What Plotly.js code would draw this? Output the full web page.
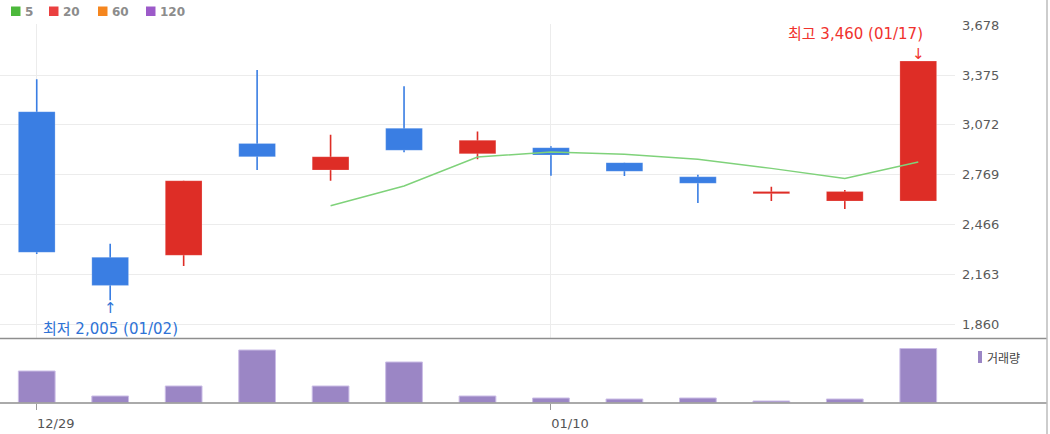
<!DOCTYPE html>
<html>
<head>
<meta charset="utf-8">
<script src="https://cdn.plot.ly/plotly-3.0.1.min.js"></script>
<style>html,body{margin:0;padding:0;background:#fff;}#chart{width:1050px;height:434px;}</style>
</head>
<body>
<div id="chart"></div>
<script>
// ---- data ----
var dates = ['12/29','01/02','01/03','01/04','01/05','01/06','01/09','01/10','01/11','01/12','01/13','01/16','01/17'];
var openP  = [3152,2266,2278,2959,2797,3051,2896,2933,2842,2756,2653,2608,2608];
var closeP = [2296,2095,2732,2878,2878,2917,2978,2888,2789,2716,2667,2667,3460];
var highP  = [3350,2349,2732,3405,3012,3306,3032,2941,2842,2769,2695,2675,3460];
var lowP   = [2286,2005,2213,2797,2732,2905,2862,2762,2761,2596,2608,2560,2608];
var ma5    = [null,null,null,null,2580,2700,2876,2907,2893,2862,2807,2746,2846];
var volume = [315,65,165,525,165,405,65,45,35,45,15,35,540];
var priceTicks = [1860,2163,2466,2769,3072,3375,3678];
var dateTicks = ['12/29','01/10'];
var maLegend = ['5','20','60','120'];
var maColors = ['#4cb83b','#ea4040','#f5861f','#9c5ac9'];

var UP = '#de2d26', DOWN = '#3a7ee3';
var colors = closeP.map(function(c,i){ return c >= openP[i] ? UP : DOWN; });
var bodyBase = openP.map(function(o,i){ return Math.min(o, closeP[i]); });
var bodyLen = openP.map(function(o,i){ return Math.max(Math.abs(closeP[i]-o), 2); });
var wickLen = highP.map(function(h,i){ return h - lowP[i]; });

var W = 1050, H = 434;
function px(x){ return x / W; }
function py(y){ return 1 - y / H; }

var traces = [
  { type:'bar', x:dates, y:wickLen, base:lowP, width:0.022, marker:{color:colors, line:{width:0}}, xaxis:'x', yaxis:'y', hoverinfo:'skip' },
  { type:'bar', x:dates, y:bodyLen, base:bodyBase, width:0.5, marker:{color:colors, line:{width:0.6, color:'rgba(255,255,255,0.35)'}}, xaxis:'x', yaxis:'y', hoverinfo:'skip' },
  { type:'scatter', mode:'lines', x:dates, y:ma5, line:{color:'#7fd27a', width:1.5}, xaxis:'x', yaxis:'y', hoverinfo:'skip', connectgaps:false },
  { type:'bar', x:dates, y:volume, width:0.5, marker:{color:'#9b86c5', line:{width:1, color:'#cbbde6'}}, xaxis:'x2', yaxis:'y2', hoverinfo:'skip' }
];

var xDom = [0, 955/W];
var shapes = [
  {type:'line', xref:'paper', yref:'paper', x0:0, x1:px(1047), y0:py(338.5), y1:py(338.5), line:{color:'#8e8e8e', width:1.5}},
  {type:'line', xref:'paper', yref:'paper', x0:0, x1:px(1047), y0:py(403), y1:py(403), line:{color:'#8e8e8e', width:1.5}},
  {type:'line', xref:'paper', yref:'paper', x0:px(1047), x1:px(1047), y0:py(0), y1:py(434), line:{color:'#bdbdbd', width:1.5}},
  {type:'rect', xref:'paper', yref:'paper', x0:px(978), x1:px(982), y0:py(363), y1:py(351), line:{width:0}, fillcolor:'#9b86c5'}
];
var legX = [11, 49, 98, 146];
var legTX = [23, 61, 110, 158];
var annotations = [];
maLegend.forEach(function(t,i){
  shapes.push({type:'rect', xref:'paper', yref:'paper', x0:px(legX[i]), x1:px(legX[i]+9.5), y0:py(16), y1:py(6.5), line:{width:0}, fillcolor:maColors[i]});
  annotations.push({xref:'paper', yref:'paper', x:px(legTX[i]), y:py(11.5), text:'<b>'+t+'</b>', showarrow:false, xanchor:'left', yanchor:'middle', font:{family:'DejaVu Sans', size:12, color:'#8c8c8c'}});
});
annotations.push({xref:'paper', yref:'paper', x:px(985), y:py(357), text:'거래량', showarrow:false, xanchor:'left', yanchor:'middle', font:{family:'Noto Sans CJK KR', size:12, color:'#444'}});

// high / low markers
var hiIdx = 0, loIdx = 0;
highP.forEach(function(v,i){ if (v > highP[hiIdx]) hiIdx = i; });
lowP.forEach(function(v,i){ if (v < lowP[loIdx]) loIdx = i; });
function fmt(v){ return v.toLocaleString('en-US'); }
var HI = '#f0322d', LO = '#2f73d6';
annotations.push({x:dates[hiIdx], y:highP[hiIdx], xref:'x', yref:'y', text:'↓', showarrow:false, xanchor:'center', yanchor:'middle', yshift:7, font:{family:'DejaVu Sans', size:15, color:HI}});
annotations.push({x:dates[hiIdx], y:highP[hiIdx], xref:'x', yref:'y', text:'최고 '+fmt(highP[hiIdx])+' ('+dates[hiIdx]+')', showarrow:false, xanchor:'right', yanchor:'middle', xshift:7, yshift:27, font:{family:'DejaVu Sans, Noto Sans CJK KR', size:15, color:HI}});
annotations.push({x:dates[loIdx], y:lowP[loIdx], xref:'x', yref:'y', text:'↑', showarrow:false, xanchor:'center', yanchor:'middle', yshift:-8, font:{family:'DejaVu Sans', size:15, color:LO}});
annotations.push({x:dates[loIdx], y:lowP[loIdx], xref:'x', yref:'y', text:'최저 '+fmt(lowP[loIdx])+' ('+dates[loIdx]+')', showarrow:false, xanchor:'center', yanchor:'middle', yshift:-28.5, font:{family:'DejaVu Sans, Noto Sans CJK KR', size:15, color:LO}});

var layout = {
  width:W, height:H,
  margin:{l:0, r:0, t:0, b:0},
  paper_bgcolor:'#fff', plot_bgcolor:'#fff',
  showlegend:false,
  barmode:'overlay',
  xaxis:{type:'category', domain:xDom, range:[-0.5,12.5], anchor:'y', tickvals:dateTicks, showticklabels:false, ticks:'', showgrid:true, gridcolor:'#ececec', gridwidth:1, showline:false, zeroline:false, fixedrange:true},
  yaxis:{domain:[py(338), py(24.4)], range:[1775,3683], side:'right', anchor:'x', tickvals:priceTicks, ticktext:priceTicks.map(fmt), showgrid:true, gridcolor:'#ececec', gridwidth:1, zeroline:false, showline:false, ticks:'', ticklabelstandoff:6, tickfont:{family:'DejaVu Sans', size:13, color:'#5a5a5a'}, fixedrange:true},
  xaxis2:{type:'category', domain:xDom, range:[-0.5,12.5], anchor:'y2', tickvals:dateTicks, ticks:'outside', ticklen:6, tickcolor:'#999', ticklabelshift:19, ticklabelstandoff:3, showgrid:false, showline:false, zeroline:false, tickfont:{family:'DejaVu Sans', size:13, color:'#555'}, fixedrange:true},
  yaxis2:{domain:[py(402.5), py(339)], range:[0,635], anchor:'x2', showticklabels:false, showgrid:false, zeroline:false, showline:false, ticks:'', fixedrange:true},
  shapes:shapes,
  annotations:annotations
};
Plotly.newPlot('chart', traces, layout, {staticPlot:true, displayModeBar:false});
</script>
</body>
</html>
